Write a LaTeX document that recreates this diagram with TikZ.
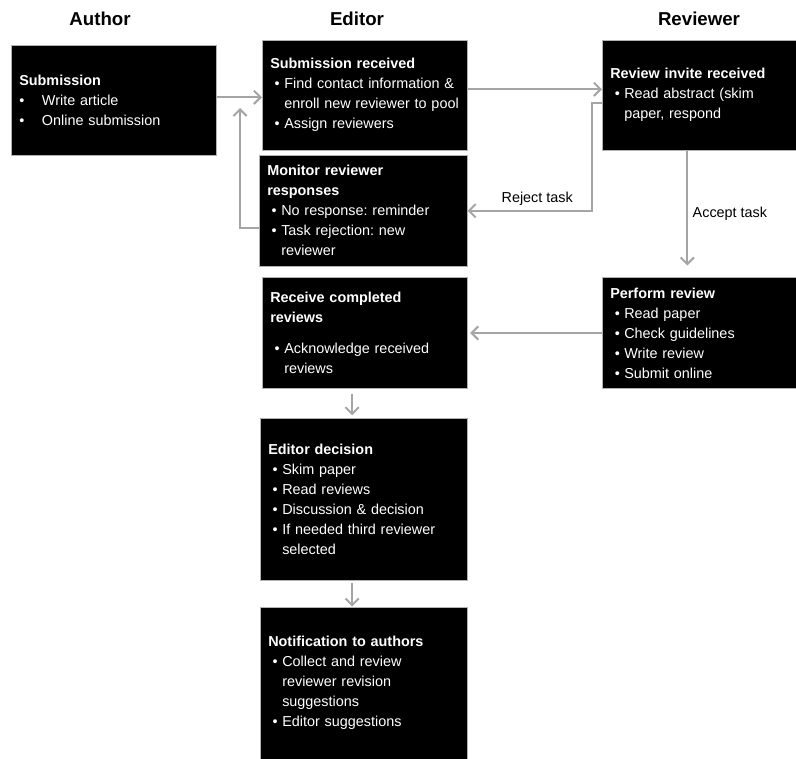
\documentclass[tikz,border=0pt]{standalone}
\usepackage{fontspec}
\setmainfont{Liberation Sans}
\usetikzlibrary{arrows.meta, positioning}
\frenchspacing

\definecolor{arrgray}{RGB}{165,165,165}
\newcommand{\bul}{\makebox[10.5pt][c]{\textbullet}}
\newcommand{\ind}{\hspace*{10.5pt}}
\newcommand{\abul}{\makebox[17pt][l]{\textbullet}}

\begin{document}
\begin{tikzpicture}[x=0.75pt, y=-0.75pt,
            box/.style={anchor=north west, fill=black, draw=gray!60, line width=0.4pt, text=white,
                align=left, inner xsep=6pt, inner ysep=3pt, font=\fontsize{10.8}{15}\selectfont},
            head/.style={font=\fontsize{14}{16}\selectfont\bfseries},
            lbl/.style={font=\fontsize{10.8}{13}\selectfont},
            arrow/.style={draw=arrgray, line width=1.5pt, -{Straight Barb[length=5pt, width=10pt]}}
        ]
            \fill[white] (0,0) rectangle (796,759);
            \useasboundingbox (0,0) rectangle (796,759);

            % Columns
            \node[head] (hauthor) at (100,19) {Author};
            \node[head] (heditor) at (357,19) {Editor};
            \node[head] (hreviewer) at (699,19) {Reviewer};

            % Author
            \node[box, text width=141.75pt, minimum height=82.5pt] (sub) at (11,45)
                {\textbf{Submission}\\ \abul Write article\\ \abul Online submission};

            % Editor
            \node[box, text width=141.75pt, minimum height=82.5pt] (recv) at (262,40)
                {\textbf{Submission received}\\ \bul Find contact information \&\\ \ind enroll new reviewer to pool\\ \bul Assign reviewers};
            \node[box, text width=144pt, minimum height=83.25pt] (monitor) at (259,155)
                {\textbf{Monitor reviewer}\\ \textbf{responses}\\ \bul No response: reminder\\ \bul Task rejection: new\\ \ind reviewer};
            \node[box, text width=141.75pt, minimum height=82.9pt] (complete) at (262,277.5)
                {\textbf{Receive completed}\\ \textbf{reviews}\\[8pt] \bul Acknowledge received\\ \ind reviews};
            \node[box, text width=143.25pt, minimum height=121.5pt] (decision) at (260,418)
                {\textbf{Editor decision}\\ \bul Skim paper\\ \bul Read reviews\\ \bul Discussion \& decision\\ \bul If needed third reviewer\\ \ind selected};
            \node[box, text width=143.25pt, minimum height=114.4pt] (notify) at (260,606.5)
                {\textbf{Notification to authors}\\ \bul Collect and review\\ \ind reviewer revision\\ \ind suggestions\\ \bul Editor suggestions};

            % Reviewer
            \node[box, text width=133.5pt, minimum height=82.5pt] (invite) at (602,40)
                {\textbf{Review invite received}\\ \bul Read abstract (skim\\ \ind paper, respond};
            \node[box, text width=133.5pt, minimum height=82.9pt] (perform) at (602,277.5)
                {\textbf{Perform review}\\ \bul Read paper\\ \bul Check guidelines\\ \bul Write review\\ \bul Submit online};

            % Connections
            \draw[arrow] ([yshift=2.25pt]sub.east) coordinate (a1) -- (a1 -| recv.west);
            \coordinate (loop) at (240,108);
            \draw[arrow] ([yshift=-13pt]monitor.west) -| (loop);
            \draw[arrow] ([yshift=4.5pt]recv.east) coordinate (a2) -- (a2 -| invite.west);
            \draw[arrow] ([yshift=-6pt]invite.west) -- ++(-10,0) |- node[lbl, above, pos=0.72] (reject) {Reject task} (monitor.east);
            \draw[arrow] ([xshift=-9pt]invite.south) coordinate (a3) -- node[lbl, right, pos=0.55] (accept) {Accept task} ([yshift=9pt]a3 |- perform.north);
            \draw[arrow] (perform.west) -- ([xshift=2pt]complete.east);
            \draw[arrow] ([xshift=-9.5pt, yshift=-4pt]complete.south) coordinate (c1) -- ([yshift=2pt]c1 |- decision.north);
            \draw[arrow] ([yshift=-2pt]c1 |- decision.south) -- (c1 |- notify.north);
        \end{tikzpicture}
\end{document}
